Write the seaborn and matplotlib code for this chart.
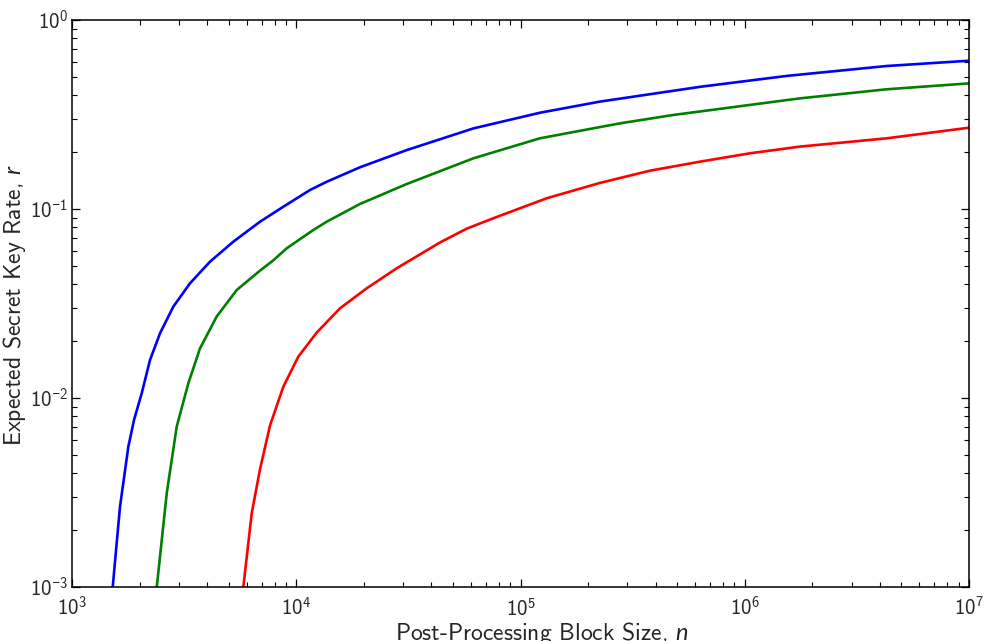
import matplotlib
matplotlib.use("Agg")
import matplotlib.pyplot as plt
import seaborn as sns
import numpy as np
from matplotlib.ticker import LogLocator, NullFormatter, FuncFormatter


# -----------------------------
# Data
# -----------------------------
blue_n = [1519, 1637, 1783, 1890, 2046, 2228, 2469, 2829, 3359, 4125, 5240,
          6893, 8756, 11513, 13680, 19230, 31100, 61700, 122000, 226000,
          631600, 1540000, 4300000, 10000000]
blue_r = [0.00100, 0.00266, 0.00552, 0.00765, 0.01059, 0.01589, 0.0220,
          0.03041, 0.04045, 0.05263, 0.06714, 0.08566, 0.1028, 0.1260, 0.1394,
          0.1662, 0.205, 0.267, 0.323, 0.370, 0.443, 0.506, 0.571, 0.609]

green_n = [2388, 2645, 2930, 3301, 3722, 4419, 5427, 6893, 7900, 9066, 11913,
           13680, 19230, 31100, 61700, 122000, 278000, 480000, 1764000,
           4300000, 10000000]
green_r = [0.00100, 0.00313, 0.00705, 0.01196, 0.0183, 0.0270, 0.03727,
           0.0472, 0.0535, 0.06195, 0.0774, 0.0857, 0.1063, 0.1356, 0.1855,
           0.2366, 0.284, 0.3144, 0.385, 0.430, 0.462]

red_n = [5807, 6330, 6893, 7637, 8756, 10212, 12340, 15670, 20620, 28050,
         43750, 57550, 75600, 130900, 226200, 378000, 631600, 1055000,
         1764000, 4300000, 10000000]
red_r = [0.00100, 0.002455, 0.00420, 0.00715, 0.01147, 0.01654, 0.0222,
         0.02982, 0.03805, 0.04857, 0.0665, 0.0787, 0.0893, 0.1140, 0.1374,
         0.1595, 0.1780, 0.1971, 0.2139, 0.2366, 0.2692]

curves = [
    (blue_n, blue_r, "#0000ff"),
    (green_n, green_r, "#008000"),
    (red_n, red_r, "#ff0000"),
]


def pow10_label(v, pos):
    # cmss10 has no usable minus sign, take it from another sans font
    e = int(round(np.log10(v)))
    if e < 0:
        return "$10^{\\mathsf{\u2212}%d}$" % abs(e)
    return "$10^{%d}$" % e


sns.set_style("ticks")
plt.rcParams["font.family"] = ["cmss10", "DejaVu Sans"]
plt.rcParams["mathtext.fontset"] = "custom"
plt.rcParams["mathtext.rm"] = "cmss10"
plt.rcParams["mathtext.it"] = "Lato:italic"
plt.rcParams["mathtext.sf"] = "Lato"
plt.rcParams["mathtext.fallback"] = "cm"
plt.rcParams["axes.formatter.use_mathtext"] = True

fig = plt.figure(figsize=(9.84, 6.41), dpi=100)
ax = fig.add_axes([72 / 984, 1 - 587 / 641, 897 / 984, 567 / 641])

for n, r, c in curves:
    sns.lineplot(x=n, y=r, color=c, linewidth=1.9, ax=ax)

ax.set_xscale("log")
ax.set_yscale("log")
ax.set_xlim(1e3, 1e7)
ax.set_ylim(1e-3, 1e0)

ax.xaxis.set_minor_locator(LogLocator(base=10, subs=range(2, 10), numticks=20))
ax.yaxis.set_minor_locator(LogLocator(base=10, subs=range(2, 10), numticks=20))
ax.xaxis.set_minor_formatter(NullFormatter())
ax.yaxis.set_minor_formatter(NullFormatter())
ax.xaxis.set_major_formatter(FuncFormatter(pow10_label))
ax.yaxis.set_major_formatter(FuncFormatter(pow10_label))

ax.tick_params(which="both", direction="in", top=True, right=True,
               color="black", labelsize=15)
ax.tick_params(which="major", length=6, width=0.9)
ax.tick_params(which="minor", length=3.5, width=0.8)
ax.tick_params(axis="x", which="major", pad=7)
ax.tick_params(axis="y", which="major", pad=3)

for s in ax.spines.values():
    s.set_linewidth(1.1)
    s.set_color("black")

ax.set_xlabel(r"Post-Processing Block Size, $n$", fontsize=17)
ax.set_ylabel(r"Expected Secret Key Rate, $r$", fontsize=17)
ax.xaxis.set_label_coords(0.524, -0.058)
ax.yaxis.set_label_coords(-0.049, 0.497)

fig.savefig("out.png", dpi=100)
